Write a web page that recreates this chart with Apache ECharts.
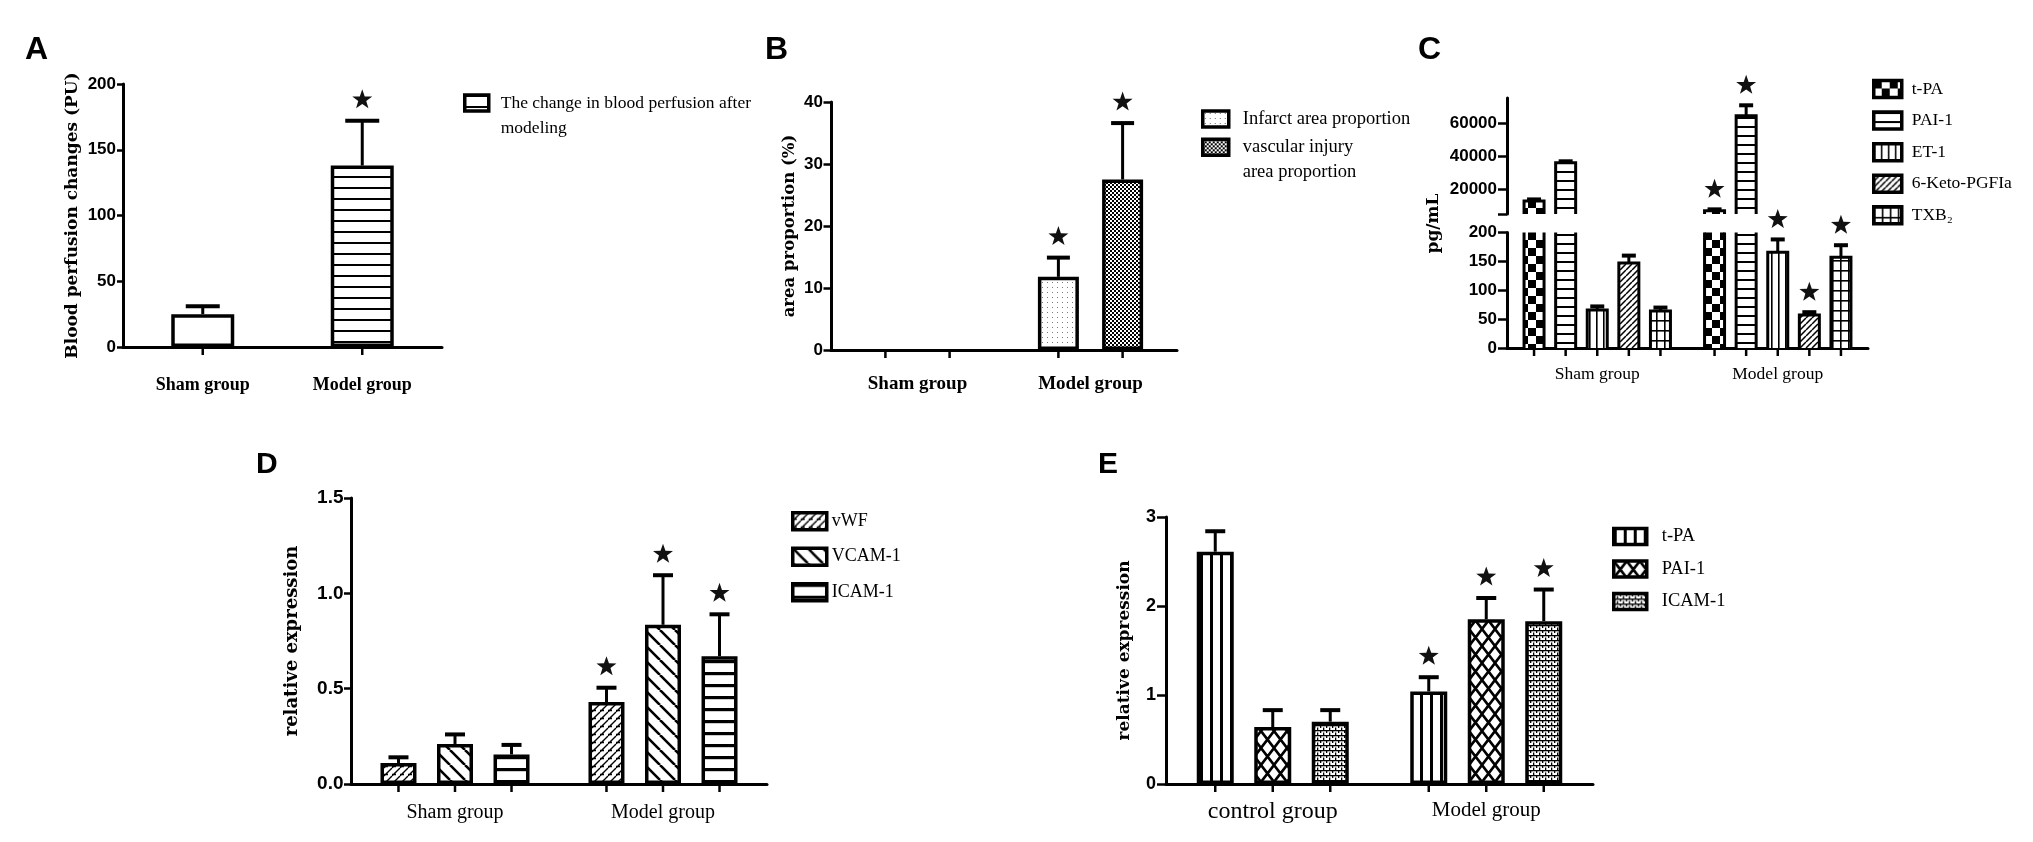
<!DOCTYPE html>
<html>
<head>
<meta charset="utf-8">
<script src="https://cdn.jsdelivr.net/npm/echarts@6/dist/echarts.min.js"></script>
<style>
  html, body { margin: 0; padding: 0; background: #fff; }
  #main { width: 2033px; height: 842px; }
</style>
</head>
<body>
<div id="main"></div>
<script>
const SERIF = "'Liberation Serif', 'Times New Roman', serif";
const TSERIF = "'DejaVu Serif', 'Liberation Serif', serif";
const NARROW = "'Liberation Sans Narrow', 'Arial Narrow', 'Liberation Sans', sans-serif";
const SANS = "'Liberation Sans', Arial, sans-serif";

// ---- data ----
const aGroups = ['Sham group', 'Model group'];
const aName = 'The change in blood perfusion after modeling';
const aMean = [25, 138];
const aErr = [6, 34];
const aStar = [0, 1];

const bGroups = ['Sham group', 'Model group'];
const bNames = ['Infarct area proportion', 'vascular injury area proportion'];
const bMean = [[0, 11.8], [0, 27.5]];
const bErr = [[0, 3.1], [0, 9.1]];
const bStar = [[0, 1], [0, 1]];

const cGroups = ['Sham group', 'Model group'];
const cNames = ['t-PA', 'PAI-1', 'ET-1', '6-Keto-PGFIa', 'TXB₂'];
const cMean = [[12800, 7000], [36000, 64300], [66, 166], [147, 57], [64, 157]];
const cErr = [[1000, 800], [800, 6300], [6, 22], [13, 5], [6, 21]];
const cStar = [[0, 1], [0, 1], [0, 1], [0, 1], [0, 1]];
const cUpperTicks = [20000, 40000, 60000];
const cBreak = 200; // lower segment top

const dGroups = ['Sham group', 'Model group'];
const dNames = ['vWF', 'VCAM-1', 'ICAM-1'];
const dMean = [[0.11, 0.43], [0.21, 0.835], [0.155, 0.67]];
const dErr = [[0.03, 0.075], [0.05, 0.26], [0.05, 0.22]];
const dStar = [[0, 1], [0, 1], [0, 1]];

const eGroups = ['control group', 'Model group'];
// zero-width suffix keeps these apart from the same names in C and D
const eNames = ['t-PA\u200b', 'PAI-1\u200b', 'ICAM-1\u200b'];
const eMean = [[2.61, 1.04], [0.64, 1.85], [0.70, 1.83]];
const eErr = [[0.23, 0.16], [0.19, 0.24], [0.13, 0.355]];
const eStar = [[0, 1], [0, 1], [0, 1]];

// ---- hatch patterns ----
function pat(w, h, draw) {
  const c = document.createElement('canvas');
  c.width = w; c.height = h;
  const g = c.getContext('2d');
  g.fillStyle = '#fff'; g.fillRect(0, 0, w, h);
  g.fillStyle = '#000'; g.strokeStyle = '#000';
  draw(g, w, h);
  return { image: c, repeat: 'repeat' };
}
const hLines = (s, lw) => pat(s, s, g => g.fillRect(0, 0, s, lw));
const vLines = (s, lw) => pat(s, s, g => g.fillRect(0, 0, lw, s));
const gridPat = (w, h, lw) => pat(w, h, g => { g.fillRect(0, 0, w, lw); g.fillRect(0, 0, lw, h); });
const checker = s => pat(2 * s, 2 * s, g => { g.fillRect(0, 0, s, s); g.fillRect(s, s, s, s); });
function diag(s, lw, dir) {
  return pat(s, s, g => {
    g.lineWidth = lw; g.beginPath();
    for (let i = -1; i <= 1; i++) {
      if (dir > 0) { g.moveTo(i * s, s); g.lineTo(i * s + s, 0); }
      else { g.moveTo(i * s, 0); g.lineTo(i * s + s, s); }
    }
    g.stroke();
  });
}
const cross = (w, h, lw) => pat(w, h, g => {
  g.lineWidth = lw; g.beginPath();
  g.moveTo(0, 0); g.lineTo(w, h); g.moveTo(w, 0); g.lineTo(0, h);
  g.stroke();
});
const dots = pat(5, 5, g => { g.fillStyle = '#777'; g.fillRect(2, 2, 1, 1); });
const brickDiag = pat(8, 8, g => {
  g.lineWidth = 1.4; g.beginPath();
  for (let i = -1; i <= 1; i++) { g.moveTo(i * 8, 8); g.lineTo(i * 8 + 8, 0); }
  g.moveTo(0, 6.5); g.lineTo(4, 6.5);
  g.stroke();
});
const smallBrick = pat(6, 5, g => {
  g.fillRect(0, 0, 6, 1.3); g.fillRect(0, 0, 1.3, 3); g.fillRect(3, 2.5, 1.3, 2.5);
});

const aFills = ['#fff', hLines(11, 2)];
const bFills = [dots, checker(2)];
const cFills = [checker(8), hLines(9, 2), vLines(7, 1.6), diag(6, 1.5, 1), gridPat(8, 10, 1.6)];
const dFills = [brickDiag, diag(15, 2.6, -1), hLines(12, 3.2)];
const eFills = [vLines(10, 3), cross(13, 17, 2.6), smallBrick];

// ---- builders ----
const grids = [], xAxes = [], yAxes = [], series = [], legends = [];

function addAxes(idx, groups, xl, yl) {
  xAxes.push({
    type: 'category', gridIndex: idx, data: groups, show: xl.show !== false,
    axisLine: { lineStyle: { color: '#000', width: 3 } },
    axisTick: { show: false },
    axisLabel: Object.assign({ color: '#000', interval: 0, fontFamily: SERIF }, xl.label || {})
  });
  yAxes.push({
    type: 'value', gridIndex: idx, min: yl.min, max: yl.max, interval: yl.step,
    axisLine: { show: true, lineStyle: { color: '#000', width: 3 } },
    axisTick: Object.assign({ show: true, length: yl.tick, lineStyle: { color: '#000', width: 2.5 } }, yl.tickExtra || {}),
    axisLabel: Object.assign({ color: '#000', fontWeight: 'bold', margin: yl.margin, fontFamily: yl.font, fontSize: yl.size,
      formatter: v => String(v) }, yl.labelExtra || {}),
    splitLine: { show: false },
    name: yl.name || '', nameLocation: 'middle', nameGap: yl.nameGap || 0,
    nameTextStyle: { color: '#000', fontFamily: TSERIF, fontWeight: 'bold', fontSize: yl.nameSize || 16 }
  });
}

function addBars(idx, names, mean, fills, lay, keep) {
  names.forEach((name, s) => {
    series.push({
      type: 'bar', name: name, xAxisIndex: idx, yAxisIndex: idx,
      data: mean[s].map(v => (v > 0 && (!keep || keep(v))) ? v : '-'),
      barWidth: lay.w, barGap: (lay.gap * 100) + '%',
      itemStyle: { color: fills[s], borderColor: '#000', borderWidth: lay.border },
      clip: true, silent: true
    });
  });
}

function starPoints(cx, cy, R) {
  const pts = [];
  for (let i = 0; i < 10; i++) {
    const r = i % 2 ? R * 0.4 : R;
    const a = -Math.PI / 2 + i * Math.PI / 5;
    pts.push([cx + r * Math.cos(a), cy + r * Math.sin(a)]);
  }
  return pts;
}

// error bars, stars, x ticks (and outlines for the broken axis panel)
function drawMarks(api, lay) {
  const g = api.value(0), s = api.value(1), m = api.value(2), e = api.value(3), st = api.value(4);
  const step = lay.w * (1 + lay.gap);
  const total = lay.n * lay.w + (lay.n - 1) * lay.gap * lay.w;
  const base = api.coord([g, lay.min]);
  const cx = base[0] - total / 2 + s * step + lay.w / 2;
  const out = [];
  const line = (x1, y1, x2, y2, w) => out.push({ type: 'line', shape: { x1, y1, x2, y2 }, style: { stroke: '#000', lineWidth: w } });
  if (lay.ticks) line(cx, base[1], cx, base[1] + lay.xtick, 2.5);
  const inside = m > lay.min && m <= lay.max;
  if (lay.outline && m > lay.min) {
    const x0 = cx - lay.w / 2, x1 = cx + lay.w / 2;
    if (inside) {
      const ym = api.coord([g, m])[1];
      out.push({ type: 'polyline', shape: { points: [[x0, base[1]], [x0, ym], [x1, ym], [x1, base[1]]] },
        style: { stroke: '#000', lineWidth: 3, fill: 'none' } });
    } else {
      const yt = api.coord([g, lay.max])[1];
      line(x0, base[1], x0, yt, 3);
      line(x1, base[1], x1, yt, 3);
    }
  }
  if (inside) {
    const ym = api.coord([g, m])[1];
    const yt = api.coord([g, m + e])[1];
    if (e > 0) {
      line(cx, ym, cx, yt, 3);
      line(cx - lay.cap / 2, yt, cx + lay.cap / 2, yt, 4);
    }
    if (st) out.push({ type: 'polygon', shape: { points: starPoints(cx, yt - lay.starGap, 10.5) }, style: { fill: '#111' } });
  }
  return { type: 'group', children: out };
}

function addMarks(idx, mean, err, star, lay, keep) {
  const items = [];
  mean[0].forEach((_, g) => mean.forEach((m, s) => {
    if (!keep || keep(m[g])) items.push([g, s, m[g], err[s][g], star[s][g]]);
  }));
  series.push({
    type: 'custom', xAxisIndex: idx, yAxisIndex: idx, silent: true, z: 5,
    data: items, encode: { x: 0, y: 2 },
    renderItem: (params, api) => drawMarks(api, lay)
  });
}

function addLegend(names, o) {
  legends.push({
    data: names, orient: 'vertical', left: o.left, top: o.top, padding: 0,
    itemWidth: o.iw, itemHeight: o.ih, itemGap: o.gap || 0, icon: 'rect',
    selectedMode: false,
    itemStyle: { borderColor: '#000', borderWidth: 3.5 },
    textStyle: { color: '#000', fontFamily: SERIF, fontSize: o.size, lineHeight: o.lh, padding: [0, 0, 0, o.pad || 0] },
    formatter: o.fmt || (n => n.replace(/\u200b/g, ''))
  });
}

// ---- A ----
grids.push({ left: 123, top: 84, width: 319, height: 263 });
addAxes(0, aGroups,
  { label: { fontWeight: 'bold', fontSize: 18, margin: 29 } },
  { min: 0, max: 200, step: 50, tick: 6, margin: 7, font: NARROW, size: 17,
    name: 'Blood perfusion changes (PU)', nameGap: 42, nameSize: 17 });
const layA = { n: 1, w: 63, gap: 0.3, cap: 34, xtick: 8, starGap: 21, min: 0, max: 200, ticks: true, border: 3.5 };
series.push({
  type: 'bar', name: aName, xAxisIndex: 0, yAxisIndex: 0, barWidth: layA.w, silent: true,
  data: aMean.map((v, i) => ({ value: v, itemStyle: { color: aFills[i] } })),
  itemStyle: { color: aFills[1], borderColor: '#000', borderWidth: layA.border }
});
addMarks(0, [aMean], [aErr], [aStar], layA);
addLegend([aName], { left: 463, top: 65.5, iw: 24, ih: 16, size: 17.5, lh: 25, pad: 7,
  fmt: () => '\nThe change in blood perfusion after\nmodeling' });

// ---- B ----
grids.push({ left: 831, top: 102, width: 346, height: 248 });
addAxes(1, bGroups,
  { label: { fontWeight: 'bold', fontSize: 19, margin: 24.5 } },
  { min: 0, max: 40, step: 10, tick: 7.5, margin: 8, font: NARROW, size: 17,
    name: 'area proportion (%)', nameGap: 33, nameSize: 16.5 });
const layB = { n: 2, w: 41, gap: 0.566, cap: 23, xtick: 8, starGap: 21, min: 0, max: 40, ticks: true, border: 3.5 };
addBars(1, bNames, bMean, bFills, layB);
addMarks(1, bMean, bErr, bStar, layB);
addLegend([bNames[0]], { left: 1201, top: 106.5, iw: 26, ih: 16, size: 18.5, lh: 25, pad: 9 });
addLegend([bNames[1]], { left: 1201, top: 109.8, iw: 26, ih: 16, size: 18.5, lh: 25, pad: 9,
  fmt: () => '\nvascular injury\narea proportion' });

// ---- C (broken axis: upper grid 2, lower grid 3) ----
grids.push({ left: 1507, top: 98, width: 361, height: 116 });
grids.push({ left: 1507, top: 232.5, width: 361, height: 115.5 });
addAxes(2, cGroups, { show: false },
  { min: 5000, max: 75000, step: 5000, tick: 9, margin: 10, font: SANS, size: 17,
    tickExtra: { customValues: [5000].concat(cUpperTicks) },
    labelExtra: { customValues: cUpperTicks } });
addAxes(3, cGroups,
  { label: { fontSize: 17.5, margin: 17 } },
  { min: 0, max: cBreak, step: 50, tick: 9, margin: 10, font: SANS, size: 17 });
const layC = { n: 5, w: 20, gap: 0.58, cap: 14, xtick: 8, starGap: 20, min: 0, max: cBreak, ticks: true, outline: true, border: 0 };
const layCU = Object.assign({}, layC, { min: 5000, max: 75000, ticks: false });
addBars(2, cNames, cMean, cFills, layCU, v => v > cBreak);
addBars(3, cNames, cMean, cFills, layC);
addMarks(2, cMean, cErr, cStar, layCU, v => v > cBreak);
addMarks(3, cMean, cErr, cStar, layC);
addLegend(cNames, { left: 1872, top: 78.7, iw: 28, ih: 17, gap: 11.1, size: 17.5, lh: 18, pad: 5 });

// ---- D ----
grids.push({ left: 351, top: 498, width: 416, height: 286 });
addAxes(4, dGroups,
  { label: { fontSize: 20, margin: 19 } },
  { min: 0, max: 1.5, step: 0.5, tick: 7, margin: 7.5, font: SANS, size: 19,
    labelExtra: { formatter: v => v.toFixed(1) },
    name: 'relative expression', nameGap: 50, nameSize: 18 });
const layD = { n: 3, w: 36, gap: 0.57, cap: 20, xtick: 8, starGap: 21, min: 0, max: 1.5, ticks: true, border: 3.5 };
addBars(4, dNames, dMean, dFills, layD);
addMarks(4, dMean, dErr, dStar, layD);
addLegend(dNames, { left: 791, top: 511, iw: 34, ih: 17, gap: 15, size: 18, lh: 18, pad: 0 });

// ---- E ----
grids.push({ left: 1166, top: 517, width: 427, height: 267 });
addAxes(5, eGroups,
  { label: { margin: 16,
      formatter: (v, i) => (i === 0 ? '{c|' : '{m|') + v + '}',
      rich: { c: { fontSize: 24, fontFamily: SERIF, color: '#000' }, m: { fontSize: 21, fontFamily: SERIF, color: '#000' } } } },
  { min: 0, max: 3, step: 1, tick: 9, margin: 10, font: SANS, size: 18,
    name: 'relative expression', nameGap: 33, nameSize: 17 });
const layE = { n: 3, w: 37, gap: 0.554, cap: 20, xtick: 8, starGap: 21, min: 0, max: 3, ticks: true, border: 3.5 };
addBars(5, eNames, eMean, eFills, layE);
addMarks(5, eMean, eErr, eStar, layE);
addLegend(eNames, { left: 1612, top: 526.7, iw: 33, ih: 16, gap: 13, size: 18.5, lh: 18, pad: 10 });

grids.forEach(g => { g.containLabel = false; g.outerBoundsMode = 'none'; });

const letter = (text, left, top, size) => ({
  text, left, top, padding: 0,
  textStyle: { fontFamily: SANS, fontWeight: 'bold', fontSize: size, color: '#000' }
});

const chart = echarts.init(document.getElementById('main'));
chart.setOption({
  backgroundColor: '#fff',
  animation: false,
  title: [
    letter('A', 25, 34, 32), letter('B', 765, 34, 32), letter('C', 1418, 34, 32),
    letter('D', 256, 450, 30), letter('E', 1098, 450, 30)
  ],
  grid: grids,
  xAxis: xAxes,
  yAxis: yAxes,
  legend: legends,
  graphic: [{
    type: 'text', x: 1434, y: 223.5, rotation: Math.PI / 2,
    style: { text: 'pg/mL', fontFamily: TSERIF, fontWeight: 'bold', fontSize: 17, fill: '#000', align: 'center', verticalAlign: 'middle' }
  }],
  series: series
});
</script>
</body>
</html>
